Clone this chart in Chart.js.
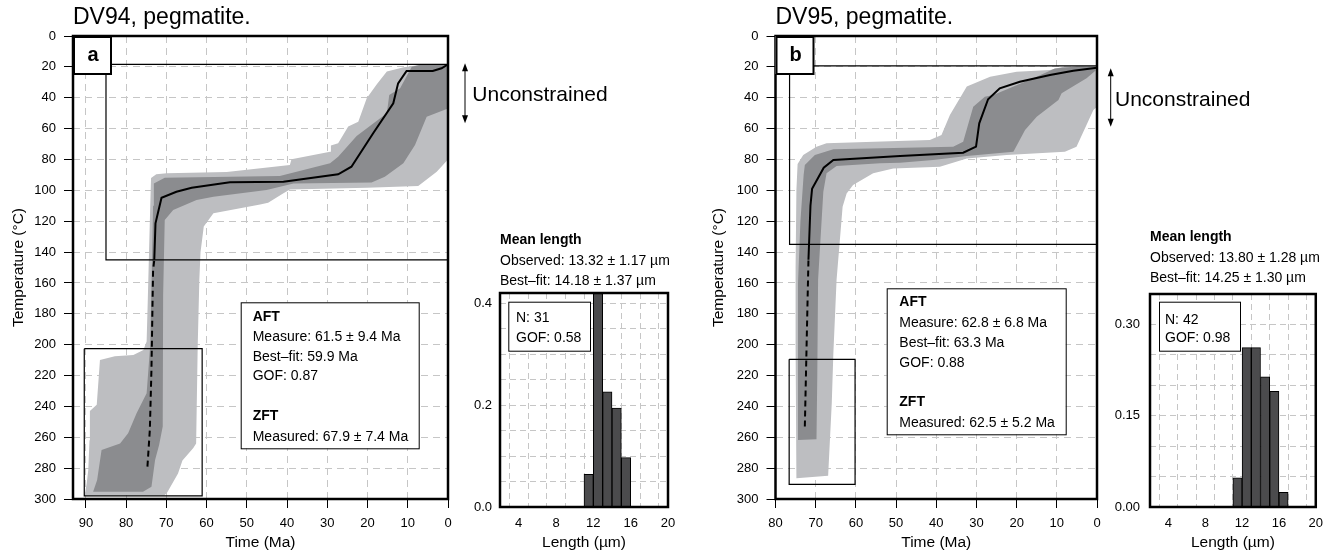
<!DOCTYPE html>
<html>
<head>
<meta charset="utf-8">
<script src="https://cdn.jsdelivr.net/npm/chart.js"></script>
<style>
  html, body { margin: 0; padding: 0; background: #fff; }
  #wrap { position: relative; width: 1332px; height: 554px; overflow: hidden; }
  canvas { position: absolute; top: 0; }
</style>
</head>
<body>
<div id="wrap">
  <canvas id="historyA" width="690" height="554" style="left:0px"></canvas>
  <canvas id="historyB" width="632" height="554" style="left:700px"></canvas>
  <canvas id="lengthsA" width="230" height="554" style="left:460px"></canvas>
  <canvas id="lengthsB" width="232" height="554" style="left:1100px"></canvas>
</div>
<script>
/* ================= DATA: DV94 (a) — [time Ma, temperature °C] ================= */
const outerEnvA = [
  [90.3, 297.5], [89.8, 290], [89.4, 281], [89.1, 262], [89.0, 243], [87.3, 239], [86.5, 210],
  [82.8, 207.5], [78.2, 206.7], [75.7, 203.5], [74.9, 198], [74.6, 170], [74.3, 140], [74.0, 110],
  [73.8, 92], [72.5, 89.5], [69.9, 89], [55, 88.2], [39.3, 83.6], [38.9, 79.9], [29.3, 75],
  [29.1, 71], [27.3, 69.5], [24.8, 58.7], [22.3, 55.5], [20.2, 40.4], [17.6, 31], [15.2, 23],
  [11, 20.2], [7, 18.8], [0, 18.4], [0, 80], [2.8, 88], [7.4, 97.2], [20.2, 98.3], [39.3, 99.4],
  [41, 102], [44.7, 108], [46.7, 109.2], [58.3, 114.9], [60.7, 123.5], [61.5, 140], [61.8, 158],
  [62.2, 200], [62.6, 264], [63.3, 267], [66, 275], [67.1, 283.4], [69.9, 296.3], [70.5, 297.5]
];
const innerEnvA = [
  [88.2, 295.3], [87.2, 287.7], [86.1, 268.3], [81.5, 264], [79.5, 257.4], [77.4, 244.5],
  [74.9, 231.5], [74.0, 200], [73.6, 150], [73.3, 110], [73.1, 95.5], [70.4, 91.8], [41.8, 90.7],
  [29.3, 82.5], [27.3, 78.2], [22.7, 64.8], [15.2, 50], [14.6, 38.2], [11.9, 33.9], [9, 19.9],
  [6.6, 18.4], [0, 18.4], [0, 46.9], [5.3, 52.3], [8.2, 70.6], [11.1, 82.5], [15.7, 91.2],
  [19, 95], [38.4, 95.5], [45.1, 99.8], [58.3, 104.1], [62.5, 106.3], [68.3, 112.7], [70.4, 119.2],
  [70.8, 168], [70.9, 253], [71.8, 265], [72.8, 274.7], [73.7, 292], [75.8, 295.3]
];
const bestFitA = [
  [73.0, 145], [72.7, 121.4], [71.2, 104.8], [67.5, 100.9], [63.7, 98.3], [54.2, 94.8],
  [40.9, 94.4], [27.3, 89.6], [24, 84.7], [18.6, 63], [13.6, 43.6], [12.4, 30.7], [10.3, 22.7],
  [3.8, 22.7], [1.6, 20.9], [0, 18.4]
];
const bestFitTailA = [[74.7, 279], [74.1, 255], [73.7, 216], [73.3, 152], [73.0, 145]];
const boxUpperA = [[85, 18.4], [0, 18.4], [0, 145], [85, 145], [85, 18.4]];
const boxLowerA = [[90.4, 202.6], [61.1, 202.6], [61.1, 298], [90.4, 298], [90.4, 202.6]];

/* ================= DATA: DV95 (b) ================= */
const outerEnvB = [
  [74.8, 286.6], [75.0, 200], [75.0, 150], [74.8, 100], [74.5, 83], [73.1, 77.1], [69.8, 71.7],
  [67.3, 69.5], [41.6, 67.4], [38.7, 64.1], [36.6, 51.2], [32.4, 32.8], [26.6, 26.4], [20, 23.1],
  [11.7, 22], [8.4, 19.9], [4, 19.4], [0, 19.8], [0, 46], [0.9, 48], [5.1, 71.7], [8, 75],
  [22.5, 77.1], [32.4, 79.3], [39.1, 84.7], [50.7, 85.8], [55.7, 89], [60.7, 96.5], [62.3, 102],
  [63.3, 110.6], [64.8, 158], [65.6, 205.6], [66.0, 238], [66.9, 285]
];
const innerEnvB = [
  [74.4, 261.8], [74.4, 160], [73.8, 120], [73.0, 90], [72.7, 83.6], [70.2, 77.1], [65.6, 73.4],
  [35.8, 71.7], [33.3, 68.5], [30.8, 45.8], [27.9, 39.3], [25.8, 38.2], [15, 26.4], [10.5, 21],
  [5, 19.8], [0.4, 20], [0.4, 22.5], [2.6, 27.4], [8.8, 37.1], [9.6, 41.5], [15, 52.3],
  [17.9, 60.9], [20.8, 75], [32.4, 77.8], [40.8, 80.3], [49, 82.2], [54, 82.5], [64.8, 84.2],
  [67.3, 89], [68.1, 100.9], [69.4, 158], [69.6, 220], [69.8, 261.3]
];
const bestFitB = [
  [71.8, 145], [71.3, 110], [70.9, 99], [68.0, 85.3], [65.6, 80.3], [49, 77.8], [33.3, 75.6],
  [30.1, 71.7], [29.3, 56.6], [27.1, 41], [24.2, 33.9], [19.2, 29.6], [11.7, 25.3], [5.9, 22.5],
  [0, 20.5]
];
const bestFitTailB = [[72.7, 253], [71.8, 145]];
const boxUpperB = [[76.5, 19.4], [0, 19.4], [0, 135], [76.5, 135], [76.5, 19.4]];
const boxLowerB = [[76.6, 209.5], [60.2, 209.5], [60.2, 290.5], [76.6, 290.5], [76.6, 209.5]];

/* ================= DATA: track length histograms ================= */
const lengthBinsA = [11.5, 12.5, 13.5, 14.5, 15.5];
const lengthFreqA = [0.064, 0.419, 0.226, 0.194, 0.097];
const lengthBinsB = [11.5, 12.5, 13.5, 14.5, 15.5, 16.5];
const lengthFreqB = [0.048, 0.262, 0.262, 0.214, 0.190, 0.024];

/* ================= STYLE ================= */
const FONT = "'Liberation Sans', Arial, Helvetica, sans-serif";
const lightGrey = '#bdbec1';
const darkGrey = '#8b8c8f';
const barGrey = '#4b4b4d';
const gridGrey = '#c6c6c6';

Chart.defaults.font.family = FONT;
Chart.defaults.color = '#000';

const toXY = arr => arr.map(([x, y]) => ({ x, y }));

/* draws the frame and all the annotation text */
const decor = {
    id: 'decor',
    afterDraw(chart, args, o) {
        const { ctx, chartArea: ca } = chart;
        const font = (bold, size) => (bold ? 'bold ' : '') + size + 'px ' + FONT;
        ctx.save();
        ctx.strokeStyle = '#000';
        ctx.fillStyle = '#000';

        ctx.lineWidth = 2.5;
        ctx.strokeRect(ca.left, ca.top, ca.right - ca.left, ca.bottom - ca.top);

        if (o.title) {
            ctx.font = font(false, o.title.size);
            ctx.textAlign = 'left';
            ctx.textBaseline = 'alphabetic';
            ctx.fillText(o.title.text, ca.left, o.title.y);
        }

        (o.boxes || []).forEach(b => {
            const x = ca.left + b.x, y = ca.top + b.y;
            ctx.fillStyle = '#fff';
            ctx.fillRect(x, y, b.w, b.h);
            ctx.lineWidth = 1;
            ctx.strokeRect(x + 0.5, y + 0.5, b.w, b.h);
            ctx.fillStyle = '#000';
            ctx.textAlign = 'left';
            ctx.textBaseline = 'middle';
            b.lines.forEach(([text, bold, dy]) => {
                ctx.font = font(bold, b.size);
                ctx.fillText(text, x + b.pad, y + dy);
            });
        });

        (o.notes || []).forEach(n => {
            ctx.font = font(n.bold, n.size);
            ctx.textAlign = 'left';
            ctx.textBaseline = 'middle';
            ctx.fillText(n.text, ca.left + n.x, ca.top + n.y);
        });

        if (o.arrow) {
            const a = o.arrow;
            const x = ca.left + a.x, y1 = ca.top + a.top, y2 = ca.top + a.bottom;
            ctx.lineWidth = 1;
            ctx.beginPath();
            ctx.moveTo(x, y1 + 5);
            ctx.lineTo(x, y2 - 5);
            ctx.stroke();
            ctx.beginPath();
            ctx.moveTo(x, y1); ctx.lineTo(x - 3, y1 + 8); ctx.lineTo(x + 3, y1 + 8);
            ctx.closePath(); ctx.fill();
            ctx.beginPath();
            ctx.moveTo(x, y2); ctx.lineTo(x - 3, y2 - 8); ctx.lineTo(x + 3, y2 - 8);
            ctx.closePath(); ctx.fill();
        }

        if (o.tag) {
            ctx.fillStyle = '#fff';
            ctx.fillRect(ca.left, ca.top, 38, 38);
            ctx.lineWidth = 2;
            ctx.strokeRect(ca.left + 1, ca.top + 1, 37, 37);
            ctx.fillStyle = '#000';
            ctx.font = font(true, 20);
            ctx.textAlign = 'center';
            ctx.textBaseline = 'middle';
            ctx.fillText(o.tag, ca.left + 20, ca.top + 19);
        }
        ctx.restore();
    }
};

/* ================= THERMAL HISTORY PANELS ================= */
function historyChart(id, s) {
    return new Chart(document.getElementById(id), {
        type: 'line',
        data: {
            datasets: [
                { data: toXY(s.outer), fill: 'shape', backgroundColor: lightGrey, borderWidth: 0, borderColor: 'transparent', order: 5 },
                { data: toXY(s.inner), fill: 'shape', backgroundColor: darkGrey, borderWidth: 0, borderColor: 'transparent', order: 4 },
                { data: toXY(s.boxUpper), fill: false, borderColor: '#000', borderWidth: 1.2, order: 3 },
                { data: toXY(s.boxLower), fill: false, borderColor: '#000', borderWidth: 1.2, order: 3 },
                { data: toXY(s.tail), fill: false, borderColor: '#000', borderWidth: 2, borderDash: [6, 4], order: 2 },
                { data: toXY(s.best), fill: false, borderColor: '#000', borderWidth: 2, order: 1 }
            ]
        },
        options: {
            responsive: false,
            animation: false,
            events: [],
            elements: { point: { radius: 0 }, line: { tension: 0 } },
            layout: { padding: { left: 0, top: 36, right: s.padRight, bottom: 0 } },
            plugins: {
                legend: { display: false },
                tooltip: { enabled: false },
                decor: s.decor
            },
            scales: {
                x: {
                    type: 'linear', reverse: true, min: 0, max: s.tMax,
                    ticks: { stepSize: 10, includeBounds: false, autoSkip: false, maxRotation: 0, padding: 8, font: { size: 13 } },
                    grid: { color: gridGrey, tickLength: 9, tickColor: '#000', tickWidth: 1, tickBorderDash: [] },
                    border: { display: false, dash: [7, 5] },
                    title: { display: true, text: 'Time (Ma)', font: { size: 15.5 }, padding: { top: 0, bottom: 2 } },
                    afterFit: sc => { sc.height = 55; }
                },
                y: {
                    type: 'linear', reverse: true, min: 0, max: 300,
                    ticks: { stepSize: 20, includeBounds: false, autoSkip: false, padding: 8, font: { size: 13 } },
                    grid: { color: gridGrey, tickLength: 9, tickColor: '#000', tickWidth: 1, tickBorderDash: [] },
                    border: { display: false, dash: [7, 5] },
                    title: { display: true, text: 'Temperature (°C)', font: { size: 15.5 }, padding: { top: 9, bottom: 0 } },
                    afterFit: sc => { sc.width = s.axisWidth; }
                }
            }
        },
        plugins: [decor]
    });
}

/* ================= LENGTH HISTOGRAMS ================= */
function lengthChart(id, bins, freq, s) {
    const every = (v, step) => Math.abs(v / step - Math.round(v / step)) < 1e-6;
    return new Chart(document.getElementById(id), {
        type: 'bar',
        data: {
            datasets: [{
                data: bins.map((b, i) => ({ x: b, y: freq[i] })),
                backgroundColor: barGrey,
                borderColor: '#000',
                borderWidth: 1,
                barPercentage: 1,
                categoryPercentage: 1
            }]
        },
        options: {
            responsive: false,
            animation: false,
            events: [],
            layout: { padding: { left: 0, top: s.top, right: s.padRight, bottom: 0 } },
            plugins: {
                legend: { display: false },
                tooltip: { enabled: false },
                decor: s.decor
            },
            scales: {
                x: {
                    type: 'linear', offset: false, min: 2, max: 20,
                    ticks: { stepSize: 2, autoSkip: false, maxRotation: 0, padding: 9, font: { size: 13 },
                        callback: v => (every(v, 4) ? v : '') },
                    grid: { color: gridGrey, drawTicks: false },
                    border: { display: false, dash: [6, 4] },
                    title: { display: true, text: 'Length (µm)', font: { size: 15.5 }, padding: { top: 0, bottom: 2 } },
                    afterFit: sc => { sc.height = 554 - s.bottom; }
                },
                y: {
                    min: 0, max: s.yMax,
                    ticks: { stepSize: 0.05, includeBounds: false, autoSkip: false, padding: s.yPad, font: { size: 13 },
                        callback: v => (every(v, s.labelStep) ? v.toFixed(s.digits) : '') },
                    grid: { color: gridGrey, drawTicks: false },
                    border: { display: false, dash: [6, 4] },
                    afterFit: sc => { sc.width = s.axisWidth; }
                }
            }
        },
        plugins: [decor]
    });
}

document.addEventListener('DOMContentLoaded', function () {

    historyChart('historyA', {
        outer: outerEnvA, inner: innerEnvA, best: bestFitA, tail: bestFitTailA,
        boxUpper: boxUpperA, boxLower: boxLowerA,
        tMax: 93.2, axisWidth: 73, padRight: 242,
        decor: {
            title: { text: 'DV94, pegmatite.', size: 23, y: 24 },
            tag: 'a',
            boxes: [{
                x: 167.7, y: 266.3, w: 178, h: 146, pad: 12, size: 14,
                lines: [['AFT', true, 14.4], ['Measure: 61.5 ± 9.4 Ma', false, 34.4],
                        ['Best–fit: 59.9 Ma', false, 54.4], ['GOF: 0.87', false, 74],
                        ['ZFT', true, 113.6], ['Measured: 67.9 ± 7.4 Ma', false, 134.4]]
            }],
            notes: [{ text: 'Unconstrained', size: 21, x: 399.3, y: 59 }],
            arrow: { x: 392, top: 27.3, bottom: 87.3 }
        }
    });

    historyChart('historyB', {
        outer: outerEnvB, inner: innerEnvB, best: bestFitB, tail: bestFitTailB,
        boxUpper: boxUpperB, boxLower: boxLowerB,
        tMax: 80, axisWidth: 75.5, padRight: 235,
        decor: {
            title: { text: 'DV95, pegmatite.', size: 23, y: 24 },
            tag: 'b',
            boxes: [{
                x: 111.2, y: 252.3, w: 179, h: 146, pad: 12.6, size: 14,
                lines: [['AFT', true, 14], ['Measure: 62.8 ± 6.8 Ma', false, 34.4],
                        ['Best–fit: 63.3 Ma', false, 54.4], ['GOF: 0.88', false, 74.4],
                        ['ZFT', true, 114], ['Measured: 62.5 ± 5.2 Ma', false, 134.4]]
            }],
            notes: [{ text: 'Unconstrained', size: 21, x: 339.5, y: 64 }],
            arrow: { x: 335.2, top: 32.3, bottom: 90.7 }
        }
    });

    lengthChart('lengthsA', lengthBinsA, lengthFreqA, {
        top: 293, bottom: 507, padRight: 22, axisWidth: 40, yPad: 8,
        yMax: 0.42, labelStep: 0.2, digits: 1,
        decor: {
            notes: [
                { text: 'Mean length', bold: true, size: 14, x: 0, y: -53 },
                { text: 'Observed: 13.32 ± 1.17 µm', size: 14, x: 0, y: -32 },
                { text: 'Best–fit: 14.18 ± 1.37 µm', size: 14, x: 0, y: -12.3 }
            ],
            boxes: [{ x: 8.3, y: 8.7, w: 81.7, h: 49, pad: 7.7, size: 14,
                lines: [['N: 31', false, 16.6], ['GOF: 0.58', false, 36]] }]
        }
    });

    lengthChart('lengthsB', lengthBinsB, lengthFreqB, {
        top: 294, bottom: 507, padRight: 13, axisWidth: 50, yPad: 10,
        yMax: 0.35, labelStep: 0.15, digits: 2,
        decor: {
            notes: [
                { text: 'Mean length', bold: true, size: 14, x: 0, y: -56.7 },
                { text: 'Observed: 13.80 ± 1.28 µm', size: 14, x: 0, y: -35.7 },
                { text: 'Best–fit: 14.25 ± 1.30 µm', size: 14, x: 0, y: -15.7 }
            ],
            boxes: [{ x: 9, y: 7.7, w: 81, h: 49, pad: 6, size: 14,
                lines: [['N: 42', false, 18], ['GOF: 0.98', false, 36]] }]
        }
    });

});
</script>
</body>
</html>
